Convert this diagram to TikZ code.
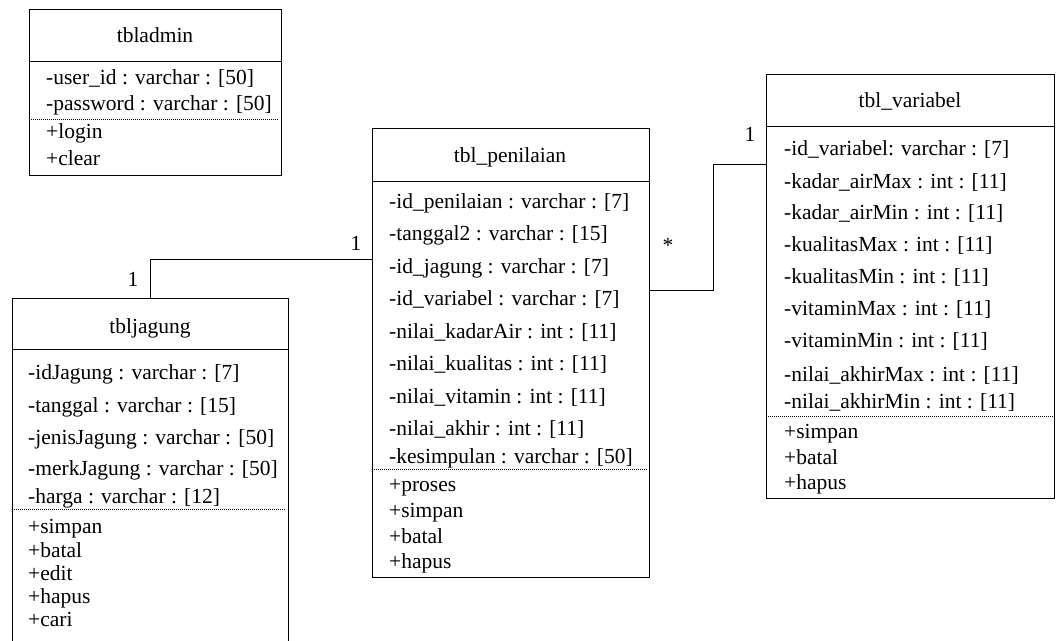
\documentclass[tikz,border=0pt]{standalone}
\usepackage{fontspec}
\setmainfont{Liberation Serif}
\begin{document}
\begin{tikzpicture}[x=1pt,y=-1pt,
  classbox/.style={draw, line width=0.9pt, rectangle, inner sep=0pt, anchor=north west},
  attr/.style={anchor=base west, inner sep=0pt, font=\fontsize{21.5}{24}\selectfont},
  ttl/.style={anchor=base, inner sep=0pt, font=\fontsize{21.5}{24}\selectfont},
  mult/.style={inner sep=0pt, font=\fontsize{21.5}{24}\selectfont},
  rule/.style={line width=0.9pt},
  dotrule/.style={line width=0.6pt, dash pattern=on 1pt off 1pt},
  link/.style={line width=0.9pt}]
\useasboundingbox (0,0) rectangle (1056,640);

% ---- tbladmin ----
\node[classbox, minimum width=252pt, minimum height=166pt] (adm) at (29,9) {};
\draw[rule] (29,61) -- (281,61);
\draw[dotrule] (29,119) -- (279,119);
\node[ttl] (adm-t) at (155,42) {tbladmin};
\foreach \t/\y [count=\i] in {{-user\_id : varchar : [50]}/84, {-password : varchar : [50]}/110,
  {+login}/138, {+clear}/165}
  \node[attr] (adm-a\i) at (46,\y) {\t};

% ---- tbljagung ----
\node[classbox, minimum width=276pt, minimum height=352pt] (jag) at (12,298) {};
\draw[rule] (12,349) -- (288,349);
\draw[dotrule] (12,509) -- (286,509);
\node[ttl] (jag-t) at (150,333) {tbljagung};
\foreach \t/\y [count=\i] in {{-idJagung : varchar : [7]}/379, {-tanggal : varchar : [15]}/412,
  {-jenisJagung : varchar : [50]}/444, {-merkJagung : varchar : [50]}/475,
  {-harga : varchar : [12]}/503, {+simpan}/533, {+batal}/557, {+edit}/580,
  {+hapus}/603, {+cari}/626}
  \node[attr] (jag-a\i) at (28,\y) {\t};

% ---- tbl_penilaian ----
\node[classbox, minimum width=277pt, minimum height=449pt] (pen) at (372,128) {};
\draw[rule] (372,181) -- (649,181);
\draw[dotrule] (374,469) -- (647,469);
\node[ttl] (pen-t) at (510,162) {tbl\_penilaian};
\foreach \t/\y [count=\i] in {{-id\_penilaian : varchar : [7]}/208, {-tanggal2 : varchar : [15]}/240,
  {-id\_jagung : varchar : [7]}/273, {-id\_variabel : varchar : [7]}/305,
  {-nilai\_kadarAir : int : [11]}/338, {-nilai\_kualitas : int : [11]}/370,
  {-nilai\_vitamin : int : [11]}/403, {-nilai\_akhir : int : [11]}/435,
  {-kesimpulan : varchar : [50]}/463, {+proses}/491, {+simpan}/517,
  {+batal}/543, {+hapus}/568}
  \node[attr] (pen-a\i) at (389,\y) {\t};

% ---- tbl_variabel ----
\node[classbox, minimum width=288pt, minimum height=424pt] (var) at (766,74) {};
\draw[rule] (766,126) -- (1054,126);
\draw[dotrule] (768,416) -- (1054,416);
\node[ttl] (var-t) at (910,107) {tbl\_variabel};
\foreach \t/\y [count=\i] in {{-id\_variabel: varchar : [7]}/155, {-kadar\_airMax : int : [11]}/188,
  {-kadar\_airMin : int : [11]}/219, {-kualitasMax : int : [11]}/251,
  {-kualitasMin : int : [11]}/283, {-vitaminMax : int : [11]}/315,
  {-vitaminMin : int : [11]}/347, {-nilai\_akhirMax : int : [11]}/381,
  {-nilai\_akhirMin : int : [11]}/408, {+simpan}/438, {+batal}/464, {+hapus}/489}
  \node[attr] (var-a\i) at (784,\y) {\t};

% ---- associations ----
\draw[link] ([xshift=138pt]jag.north west) |- ([yshift=-131pt]pen.north west);
\draw[link] ([yshift=-162pt]pen.north east) -- ++(64,0) |- ([yshift=-90pt]var.north west);

\node[mult] (m1) at (133,279) {1};
\node[mult] (m2) at (356,243) {1};
\node[mult] (m3) at (668,245) {*};
\node[mult] (m4) at (750,134) {1};
\end{tikzpicture}
\end{document}
